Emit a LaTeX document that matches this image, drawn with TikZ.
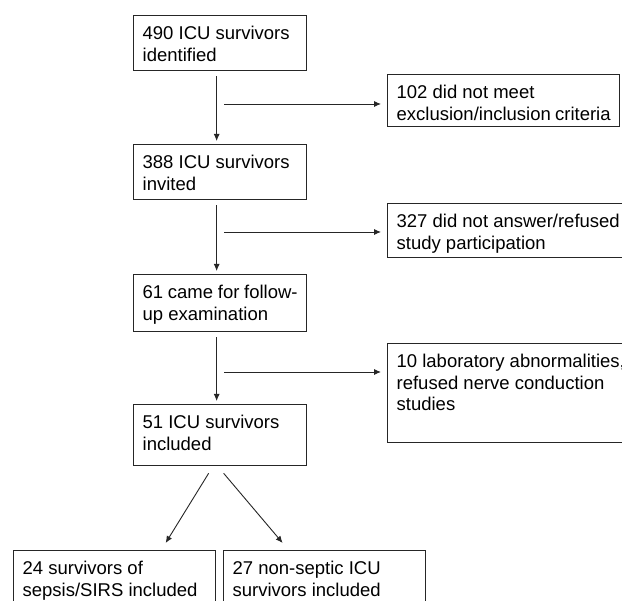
\documentclass[tikz,border=0pt]{standalone}
\usepackage{fontspec}
\setmainfont{Liberation Sans}
\usetikzlibrary{arrows.meta,calc}
\newcommand\boxtext[3]{\parbox[c][#2][t]{#1}{\rule{0pt}{24pt}#3}}
\begin{document}
\begin{tikzpicture}[x=1pt,y=-1pt,
  boxst/.style={draw=black!85, line width=1.3pt, anchor=north west, inner xsep=9pt, inner ysep=0pt, align=left,
    font=\fontsize{18.5}{21.5}\selectfont},
  arr/.style={draw=black!85, line width=0.9pt, -{Latex[length=7pt,width=6pt]}},
  ln/.style={draw=black!85, line width=0.9pt}]
\useasboundingbox (0,0) rectangle (622,601);
\clip (0,0) rectangle (622,601);
\fill[white] (0,0) rectangle (622,601);
% main column
\node[boxst] (b1) at (133,15)  {\boxtext{155pt}{55pt}{490 ICU survivors\\identified}};
\node[boxst] (b2) at (133,144) {\boxtext{155pt}{55pt}{388 ICU survivors\\invited}};
\node[boxst] (b3) at (133,274) {\boxtext{155pt}{57pt}{61 came for follow-\\up examination}};
\node[boxst] (b4) at (133,404) {\boxtext{155pt}{61pt}{51 ICU survivors\\included}};
% side boxes
\node[boxst] (sA) at (387,74)  {\boxtext{214pt}{52pt}{102 did not meet\\exclusion/inclusion criteria}};
\node[boxst] (sB) at (387,203) {\boxtext{250pt}{54pt}{327 did not answer/refused\\study participation}};
\node[boxst] (sC) at (387,343) {\boxtext{250pt}{99pt}{10 laboratory abnormalities,\\refused nerve conduction\\studies}};
% bottom boxes
\node[boxst] (d1) at (13,550)  {\boxtext{184pt}{70pt}{24 survivors of\\sepsis/SIRS included}};
\node[boxst] (d2) at (223,550) {\boxtext{184pt}{70pt}{27 non-septic ICU\\survivors included}};
% vertical arrows
\draw[arr] ([xshift=-3.5pt,yshift=-5pt]b1.south) -- ([xshift=-3.5pt,yshift=3pt]b2.north);
\draw[arr] ([xshift=-3.5pt,yshift=-5pt]b2.south) -- ([xshift=-3.5pt,yshift=3pt]b3.north);
\draw[arr] ([xshift=-3.5pt,yshift=-5pt]b3.south) -- ([xshift=-3.5pt,yshift=3pt]b4.north);
% horizontal arrows
\coordinate (h1) at (224,104);
\coordinate (h2) at (224,232);
\coordinate (h3) at (224,372);
\draw[arr] (h1) -- ([xshift=-6pt]h1 -| sA.west);
\draw[arr] (h2) -- ([xshift=-6pt]h2 -| sB.west);
\draw[arr] (h3) -- ([xshift=-6pt]h3 -| sC.west);
% diagonal arrows
\draw[arr] ([xshift=-11.5pt,yshift=-7pt]b4.south) -- ([xshift=51pt,yshift=7pt]d1.north);
\draw[arr] ([xshift=3.5pt,yshift=-7pt]b4.south) -- ([xshift=-42pt,yshift=7pt]d2.north);
\end{tikzpicture}
\end{document}
